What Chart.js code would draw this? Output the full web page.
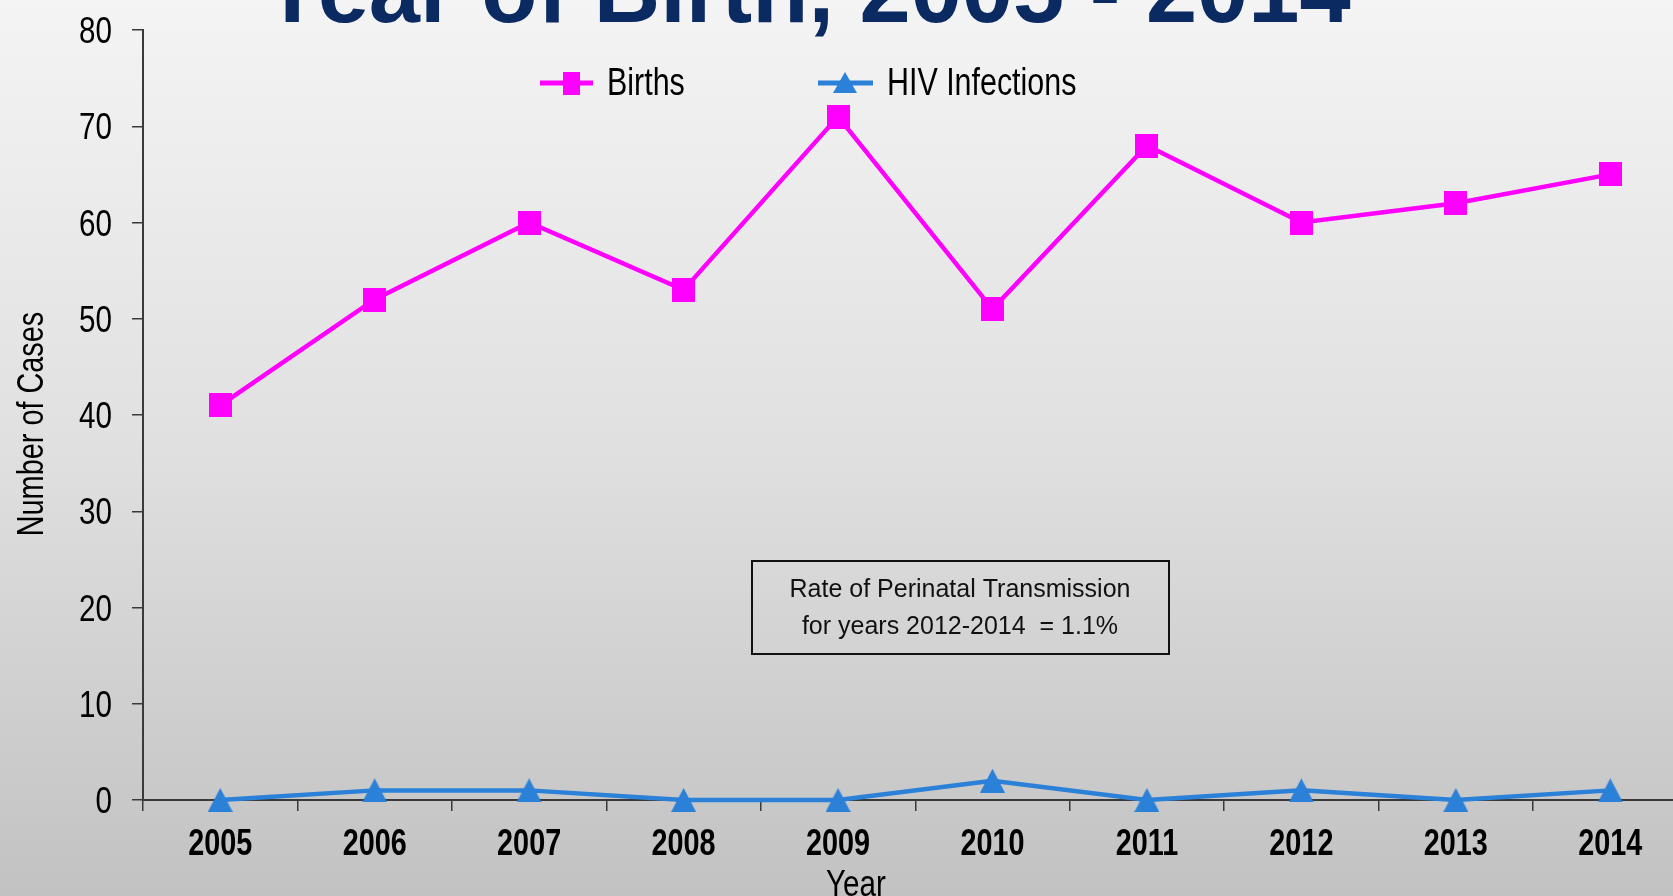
<!DOCTYPE html>
<html>
<head>
<meta charset="utf-8">
<script src="https://cdn.jsdelivr.net/npm/chart.js@4.4.1/dist/chart.umd.min.js"></script>
<style>
    html, body { margin: 0; padding: 0; overflow: hidden; background: #d8d8d8; }
    canvas { display: block; }
</style>
</head>
<body>
<canvas id="perinatalChart" width="1696" height="896"></canvas>
<script>
const years = ['2005', '2006', '2007', '2008', '2009', '2010', '2011', '2012', '2013', '2014']
const births = [41, 52, 60, 53, 71, 51, 68, 60, 62, 65]
const hivInfections = [0, 1, 1, 0, 0, 2, 0, 1, 0, 1]
const yMax = 80
const yStep = 10

const titleText = 'Year of Birth, 2005 - 2014'
const noteLines = ['Rate of Perinatal Transmission', 'for years 2012-2014  = 1.1%']

const FONT = "'Liberation Sans', Arial, sans-serif"
const MAGENTA = '#ff00ff'
const BLUE = '#2b80d8'
const AXIS = '#3a3a3a'
// the chart text is narrow (stretched chart picture), so squeeze it horizontally
const SQUEEZE = 0.8

function makeMarker(w, h, color, shape) {
    const c = document.createElement('canvas')
    c.width = w
    c.height = h
    const g = c.getContext('2d')
    g.fillStyle = color
    if (shape === 'rect') {
        g.fillRect(0, 0, w, h)
    } else {
        g.beginPath()
        g.moveTo(w / 2, 0)
        g.lineTo(w, h)
        g.lineTo(0, h)
        g.closePath()
        g.fill()
    }
    return c
}

const squareMarker = makeMarker(23, 24, MAGENTA, 'rect')
const triangleMarker = makeMarker(25, 24, BLUE, 'triangle')
const legendSquare = makeMarker(17, 23, MAGENTA, 'rect')
const legendTriangle = makeMarker(24, 21, BLUE, 'triangle')

function squeezedText(ctx, text, x, y, sx) {
    ctx.save()
    ctx.translate(x, y)
    ctx.scale(sx, 1)
    ctx.fillText(text, 0, 0)
    ctx.restore()
}

// slide-style grey gradient behind everything
const backgroundPlugin = {
    id: 'slideBackground',
    beforeDraw(chart) {
        const {ctx, width, height} = chart
        const g = ctx.createLinearGradient(0, 0, 0, height)
        g.addColorStop(0, '#f4f4f4')
        g.addColorStop(0.5, '#e0e0e0')
        g.addColorStop(1, '#c2c2c2')
        ctx.save()
        ctx.fillStyle = g
        ctx.fillRect(0, 0, width, height)
        ctx.restore()
    }
}

// tick labels drawn by hand so they can be squeezed
const tickLabelPlugin = {
    id: 'tickLabels',
    afterDraw(chart) {
        const {ctx, scales: {x, y}} = chart
        ctx.save()
        ctx.fillStyle = '#000'
        ctx.textBaseline = 'alphabetic'

        ctx.font = "37px " + FONT
        ctx.textAlign = 'right'
        y.ticks.forEach((t, i) => {
            squeezedText(ctx, String(t.value), 112, y.getPixelForTick(i) + 13, SQUEEZE)
        })

        ctx.font = "bold 36px " + FONT
        ctx.textAlign = 'center'
        x.ticks.forEach((t, i) => {
            squeezedText(ctx, chart.data.labels[i], x.getPixelForTick(i), 855, SQUEEZE)
        })
        ctx.restore()
    }
}

// title, legend, axis titles and the note box
const decorPlugin = {
    id: 'decor',
    afterDraw(chart) {
        const {ctx} = chart
        ctx.save()

        ctx.fillStyle = '#0b2a62'
        ctx.font = "bold 92px " + FONT
        ctx.textAlign = 'center'
        ctx.textBaseline = 'alphabetic'
        ctx.fillText(titleText, 806, 22)

        // legend
        const ly = 83
        ctx.lineWidth = 5
        ctx.strokeStyle = MAGENTA
        ctx.beginPath(); ctx.moveTo(540, ly); ctx.lineTo(593, ly); ctx.stroke()
        ctx.drawImage(legendSquare, 571 - 8.5, ly - 11.5)
        ctx.strokeStyle = BLUE
        ctx.beginPath(); ctx.moveTo(818, ly); ctx.lineTo(873, ly); ctx.stroke()
        ctx.drawImage(legendTriangle, 845 - 12, ly - 11)

        ctx.fillStyle = '#000'
        ctx.font = "39px " + FONT
        ctx.textAlign = 'left'
        squeezedText(ctx, chart.data.datasets[0].label, 607, 95, 0.78)
        squeezedText(ctx, chart.data.datasets[1].label, 887, 95, 0.78)

        // axis titles
        ctx.font = "37px " + FONT
        ctx.textAlign = 'center'
        squeezedText(ctx, 'Year', 856, 896, SQUEEZE)
        ctx.save()
        ctx.translate(43, 424)
        ctx.rotate(-Math.PI / 2)
        squeezedText(ctx, 'Number of Cases', 0, 0, 0.78)
        ctx.restore()

        // note box
        ctx.lineWidth = 2
        ctx.strokeStyle = '#111'
        ctx.strokeRect(752, 561, 417, 93)
        ctx.font = "25px " + FONT
        ctx.fillStyle = '#111'
        ctx.textBaseline = 'middle'
        ctx.fillText(noteLines[0], 960, 590)
        ctx.fillText(noteLines[1], 960, 627)

        ctx.restore()
    }
}

const chartData = {
    labels: years,
    datasets: [
        {
            label: 'Births',
            data: births,
            borderColor: MAGENTA,
            backgroundColor: MAGENTA,
            borderWidth: 4.5,
            pointStyle: squareMarker,
            clip: false,
        },
        {
            label: 'HIV Infections',
            data: hivInfections,
            borderColor: BLUE,
            backgroundColor: BLUE,
            borderWidth: 4.5,
            pointStyle: triangleMarker,
            clip: false,
        },
    ]
}

new Chart(document.getElementById('perinatalChart'), {
    type: 'line',
    data: chartData,
    options: {
        responsive: false,
        animation: false,
        layout: {
            padding: {top: 30, left: 0, right: 0, bottom: 0}
        },
        scales: {
            x: {
                offset: true,
                afterFit: (scale) => { scale.height = 96 },
                grid: {
                    offset: true,
                    drawOnChartArea: false,
                    tickLength: 11,
                    tickColor: AXIS,
                    lineWidth: 1.5,
                },
                border: {color: AXIS, width: 2},
                ticks: {display: false},
            },
            y: {
                min: 0,
                max: yMax,
                afterFit: (scale) => { scale.width = 143 },
                grid: {
                    drawOnChartArea: false,
                    tickLength: 11,
                    tickColor: AXIS,
                    lineWidth: 1.5,
                },
                border: {color: AXIS, width: 2},
                ticks: {display: false, stepSize: yStep},
            },
        },
        plugins: {
            legend: {display: false},
            tooltip: {enabled: false},
        }
    },
    plugins: [backgroundPlugin, tickLabelPlugin, decorPlugin]
})
</script>
</body>
</html>
